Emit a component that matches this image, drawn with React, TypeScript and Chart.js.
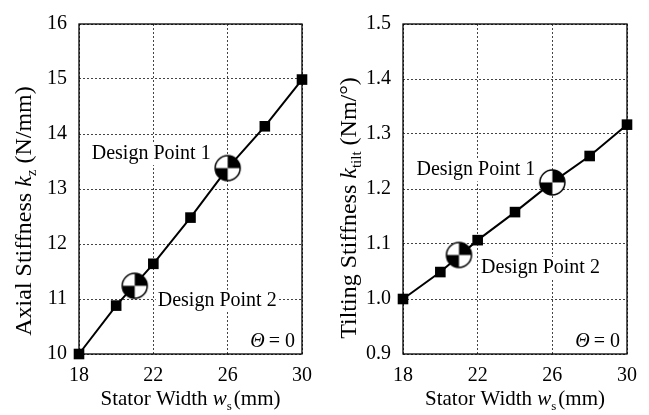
import React, { useEffect, useRef } from "react";
import { Chart, registerables } from "chart.js";
Chart.register(...registerables);

// ---- data ----
const statorWidths = [18, 20, 22, 24, 26, 28, 30];
const axialStiffness = [10.0, 10.88, 11.64, 12.48, 13.38, 14.14, 14.99];
const tiltingStiffness = [1.0, 1.049, 1.107, 1.158, 1.212, 1.26, 1.317];
const designPointWidths = [26, 21];
const designPointAxial = [13.38, 11.24];
const designPointTilting = [1.212, 1.08];
const designPointLabels = ["Design Point 1", "Design Point 2"];
const xTickValues = [18, 22, 26, 30];
const axialTicks = [10, 11, 12, 13, 14, 15, 16];
const tiltingTicks = [0.9, 1.0, 1.1, 1.2, 1.3, 1.4, 1.5];

const FONT = '"Liberation Serif", "Times New Roman", serif';

type Seg = { t: string; style?: "italic" | "sub"; gap?: number };

function makeDesignMarker(r: number) {
  const c = document.createElement("canvas");
  const s = Math.ceil(r * 2 + 4);
  c.width = s;
  c.height = s;
  const ctx = c.getContext("2d")!;
  const cx = s / 2;
  const cy = s / 2;
  ctx.beginPath();
  ctx.arc(cx, cy, r, 0, Math.PI * 2);
  ctx.fillStyle = "#fff";
  ctx.fill();
  ctx.fillStyle = "#000";
  ctx.beginPath();
  ctx.moveTo(cx, cy);
  ctx.arc(cx, cy, r, -Math.PI / 2, 0);
  ctx.closePath();
  ctx.fill();
  ctx.beginPath();
  ctx.moveTo(cx, cy);
  ctx.arc(cx, cy, r, Math.PI / 2, Math.PI);
  ctx.closePath();
  ctx.fill();
  ctx.beginPath();
  ctx.arc(cx, cy, r, 0, Math.PI * 2);
  ctx.lineWidth = 1.5;
  ctx.strokeStyle = "#000";
  ctx.stroke();
  return c;
}

function segFont(seg: Seg, size: number) {
  if (seg.style === "italic") return `italic ${size}px ${FONT}`;
  if (seg.style === "sub") return `${Math.round(size * 0.62)}px ${FONT}`;
  return `${size}px ${FONT}`;
}

function drawSegs(ctx: CanvasRenderingContext2D, segs: Seg[], size: number) {
  let total = 0;
  for (const s of segs) {
    ctx.font = segFont(s, size);
    total += ctx.measureText(s.t).width + (s.gap || 0);
  }
  let x = -total / 2;
  ctx.textAlign = "left";
  ctx.textBaseline = "alphabetic";
  for (const s of segs) {
    ctx.font = segFont(s, size);
    const dy = s.style === "sub" ? size * 0.22 : 0;
    ctx.fillText(s.t, x, dy);
    x += ctx.measureText(s.t).width + (s.gap || 0);
  }
}

type LabelPos = { dx: number; dy: number; align: "left" | "right" };

type PanelProps = {
  left: number;
  width: number;
  yAxisWidth: number;
  padRight: number;
  values: number[];
  designValues: number[];
  yTicks: number[];
  decimals: number;
  yTitle: Seg[];
  yTitleX: number;
  yTitleY: number;
  yTitleSize: number;
  labelPos: LabelPos[];
};

function Panel(p: PanelProps) {
  const ref = useRef<HTMLCanvasElement>(null);
  useEffect(() => {
    const canvas = ref.current!;
    const marker = makeDesignMarker(12.5);
    const yMin = p.yTicks[0];
    const yMax = p.yTicks[p.yTicks.length - 1];
    const overlay = {
      id: "overlay",
      beforeDatasetsDraw(chart: any) {
        const { ctx, chartArea: a } = chart;
        const xs = chart.scales.x;
        const ys = chart.scales.y;
        ctx.save();
        ctx.setLineDash([]);
        ctx.strokeStyle = "#000";
        ctx.lineWidth = 1.3;
        ctx.strokeRect(a.left, a.top, a.right - a.left, a.bottom - a.top);
        ctx.font = `20px ${FONT}`;
        ctx.textBaseline = "alphabetic";
        designPointLabels.forEach((lab, i) => {
          const lp = p.labelPos[i];
          const px = xs.getPixelForValue(designPointWidths[i]) + lp.dx;
          const py = ys.getPixelForValue(p.designValues[i]) + lp.dy;
          const w = ctx.measureText(lab).width;
          const x0 = lp.align === "left" ? px : px - w;
          ctx.fillStyle = "#fff";
          ctx.fillRect(x0 - 2, py - 16, w + 4, 22);
          ctx.fillStyle = "#000";
          ctx.textAlign = "left";
          ctx.fillText(lab, x0, py);
        });
        const eq = "= 0";
        ctx.font = `20px ${FONT}`;
        const wEq = ctx.measureText(eq).width;
        ctx.font = `italic 20px ${FONT}`;
        const wTh = ctx.measureText("\u0398").width;
        const right = a.right - 7;
        const base = a.bottom - 7;
        const gap = 4;
        ctx.fillStyle = "#fff";
        ctx.fillRect(right - wEq - wTh - gap - 3, base - 16, wEq + wTh + gap + 5, 21);
        ctx.fillStyle = "#000";
        ctx.textAlign = "left";
        ctx.fillText("\u0398", right - wEq - wTh - gap, base);
        ctx.font = `20px ${FONT}`;
        ctx.fillText(eq, right - wEq, base);
        ctx.restore();
      },
      afterDraw(chart: any) {
        const { ctx, chartArea: a } = chart;
        ctx.save();
        ctx.fillStyle = "#000";
        ctx.translate((a.left + a.right) / 2, 405);
        drawSegs(
          ctx,
          [
            { t: "Stator Width " },
            { t: "w", style: "italic" },
            { t: "s", style: "sub", gap: 2 },
            { t: "(mm)" },
          ],
          21
        );
        ctx.restore();
        ctx.save();
        ctx.fillStyle = "#000";
        ctx.translate(p.yTitleX, p.yTitleY);
        ctx.rotate(-Math.PI / 2);
        drawSegs(ctx, p.yTitle, p.yTitleSize);
        ctx.restore();
      },
    };
    const chart = new Chart(canvas, {
      type: "line",
      data: {
        datasets: [
          {
            label: "stiffness",
            data: statorWidths.map((x, i) => ({ x, y: p.values[i] })),
            borderColor: "#000",
            borderWidth: 2,
            pointStyle: "rect",
            pointRadius: 7.5,
            pointBackgroundColor: "#000",
            pointBorderColor: "#000",
            pointBorderWidth: 0,
            tension: 0,
            order: 2,
            clip: false as any,
          },
          {
            label: "design",
            data: designPointWidths.map((x, i) => ({ x, y: p.designValues[i] })),
            showLine: false,
            pointStyle: marker as any,
            pointRadius: 13,
            order: 1,
            clip: false as any,
          },
        ],
      },
      options: {
        responsive: false,
        animation: false,
        events: [],
        layout: { padding: { top: 13, right: p.padRight, bottom: 0, left: 0 } },
        plugins: { legend: { display: false }, tooltip: { enabled: false } },
        scales: {
          x: {
            type: "linear",
            min: 18,
            max: 30,
            afterBuildTicks: (s: any) => {
              s.ticks = xTickValues.map((v) => ({ value: v }));
            },
            afterFit: (s: any) => {
              s.height = 61;
            },
            grid: { color: "#444", lineWidth: 1, drawTicks: false },
            border: { display: false, dash: [2, 2] },
            ticks: {
              color: "#000",
              font: { family: FONT, size: 20 },
              padding: 10,
              maxRotation: 0,
              autoSkip: false,
            },
          },
          y: {
            type: "linear",
            min: yMin,
            max: yMax,
            afterBuildTicks: (s: any) => {
              s.ticks = p.yTicks.map((v) => ({ value: v }));
            },
            afterFit: (s: any) => {
              s.width = p.yAxisWidth;
            },
            grid: { color: "#444", lineWidth: 1, drawTicks: false },
            border: { display: false, dash: [2, 2] },
            ticks: {
              color: "#000",
              font: { family: FONT, size: 20 },
              padding: 12,
              autoSkip: false,
              callback: (v: any) => Number(v).toFixed(p.decimals),
            },
          },
        },
      },
      plugins: [overlay],
    });
    return () => chart.destroy();
  }, []);
  return (
    <div style={{ position: "absolute", left: p.left, top: 0, width: p.width, height: 415 }}>
      <canvas ref={ref} width={p.width} height={415} style={{ width: p.width, height: 415, display: "block" }} />
    </div>
  );
}

export default function App() {
  return (
    <div style={{ position: "absolute", left: 0, top: 0, width: 649, height: 415, background: "#fff" }}>
      <Panel
        left={0}
        width={325}
        yAxisWidth={79}
        padRight={23}
        values={axialStiffness}
        designValues={designPointAxial}
        yTicks={axialTicks}
        decimals={0}
        yTitle={[
          { t: "Axial Stiffness " },
          { t: "k", style: "italic" },
          { t: "z", style: "sub" },
          { t: " (N/mm)" },
        ]}
        yTitleX={31}
        yTitleY={211}
        yTitleSize={24}
        labelPos={[
          { dx: -17, dy: -9, align: "right" },
          { dx: 23, dy: 20, align: "left" },
        ]}
      />
      <Panel
        left={325}
        width={324}
        yAxisWidth={78}
        padRight={22}
        values={tiltingStiffness}
        designValues={designPointTilting}
        yTicks={tiltingTicks}
        decimals={1}
        yTitle={[
          { t: "Tilting Stiffness " },
          { t: "k", style: "italic" },
          { t: "tilt", style: "sub" },
          { t: " (Nm/\u00B0)" },
        ]}
        yTitleX={31}
        yTitleY={208}
        yTitleSize={24}
        labelPos={[
          { dx: -17, dy: -7, align: "right" },
          { dx: 22, dy: 18, align: "left" },
        ]}
      />
    </div>
  );
}
